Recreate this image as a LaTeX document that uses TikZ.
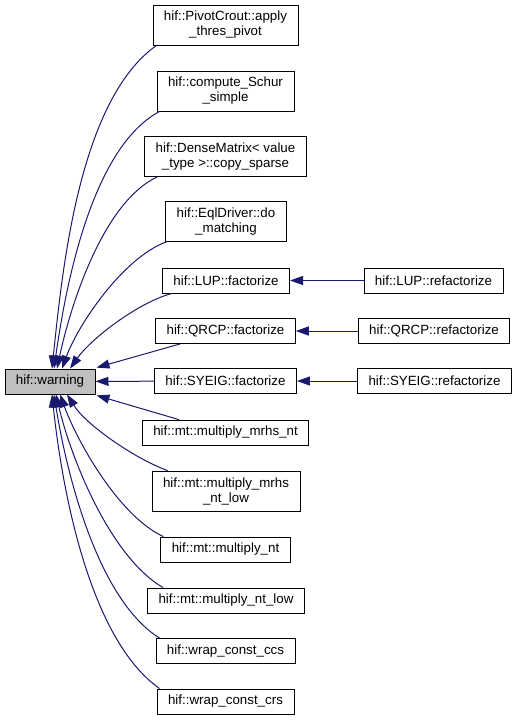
\documentclass[tikz,border=0pt]{standalone}
\usepackage{fontspec}
\setmainfont{Liberation Sans}
\usepackage{tikz}
\usetikzlibrary{arrows.meta, positioning, calc}
\definecolor{edgeblue}{HTML}{191970}
\tikzset{
  fn/.style={rectangle, draw=black, line width=0.6pt, fill=white,
             font=\fontsize{10}{11.25}\selectfont, align=center,
             inner xsep=8.25pt, inner ysep=0pt, minimum height=18.75pt},
  fntwo/.style={fn, minimum height=30pt},
  cur/.style={fn, fill=black!25},
  arc/.style={-{Triangle[length=9.75pt, width=6.75pt]}, draw=edgeblue,
              line width=0.75pt, looseness=0.72}
}

\begin{document}
\begin{tikzpicture}[x=0.75pt, y=-0.75pt]
  \useasboundingbox (0,0) rectangle (517,721);
  \node[cur] (warning) at (50,381.5) {hif::warning};
  % callers
  \node[fntwo] (pivot) at (225.5,25) {hif::PivotCrout::apply\\\_thres\_pivot};
  \node[fntwo] (schur) at (225.5,91) {hif::compute\_Schur\\\_simple};
  \node[fntwo] (dense) at (225.5,156.5) {hif::DenseMatrix< value\\\_type >::copy\_sparse};
  \node[fntwo] (eql) at (226,221.5) {hif::EqlDriver::do\\\_matching};
  \node[fn] (lupf) at (226,280.5) {hif::LUP::factorize};
  \node[fn] (qrcpf) at (225.5,331) {hif::QRCP::factorize};
  \node[fn] (syeigf) at (225.5,381) {hif::SYEIG::factorize};
  \node[fn] (mrhs) at (225.5,432.5) {hif::mt::multiply\_mrhs\_nt};
  \node[fntwo] (mrhslow) at (226,491) {hif::mt::multiply\_mrhs\\\_nt\_low};
  \node[fn] (mnt) at (225.5,549.5) {hif::mt::multiply\_nt};
  \node[fn] (mntlow) at (226,600.5) {hif::mt::multiply\_nt\_low};
  \node[fn] (ccs) at (225.5,651) {hif::wrap\_const\_ccs};
  \node[fn] (crs) at (225.5,701.5) {hif::wrap\_const\_crs};
  \node[fn] (lupr) at (433.5,280.5) {hif::LUP::refactorize};
  \node[fn] (qrcpr) at (434,331) {hif::QRCP::refactorize};
  \node[fn] (syeigr) at (434.5,381) {hif::SYEIG::refactorize};

  % edges into hif::warning
  \draw[arc] ($(pivot.south west)+(4,0)$) to[out=215, in=84] ($(warning.north)+(2,0)$);
  \draw[arc] ($(schur.south west)+(3,0)$) to[out=208, in=82] ($(warning.north)+(4,0)$);
  \draw[arc] ($(dense.south west)+(13,0)$) to[out=205, in=78] ($(warning.north)+(7,0)$);
  \draw[arc] ($(eql.south west)+(1,0)$) to[out=200, in=70] ($(warning.north)+(12,0)$);
  \draw[arc] ($(lupf.south west)+(10,0)$) to[out=195, in=55] ($(warning.north)+(20,0)$);
  \draw[arc] ($(qrcpf.south west)+(25,0)$) -- ($(warning.north east)+(1,-1)$);
  \draw[arc] (syeigf) -- (warning);
  \draw[arc] ($(mrhs.north west)+(37,0)$) -- ($(warning.south east)+(1,1)$);
  \draw[arc] ($(mrhslow.north west)+(16,0)$) to[out=160, in=-58] ($(warning.south)+(17,0)$);
  \draw[arc] ($(mnt.north west)+(3,0)$) to[out=155, in=-70] ($(warning.south)+(10,0)$);
  \draw[arc] ($(mntlow.north west)+(16,0)$) to[out=150, in=-77] ($(warning.south)+(6,0)$);
  \draw[arc] ($(ccs.north west)+(4,0)$) to[out=148, in=-81] ($(warning.south)+(4,0)$);
  \draw[arc] ($(crs.north west)+(3,0)$) to[out=145, in=-84] ($(warning.south)+(2,0)$);
  % refactorize callers
  \draw[arc] (lupr) -- (lupf);
  \draw[arc] (qrcpr) -- (qrcpf);
  \draw[arc] (syeigr) -- (syeigf);
\end{tikzpicture}
\end{document}
